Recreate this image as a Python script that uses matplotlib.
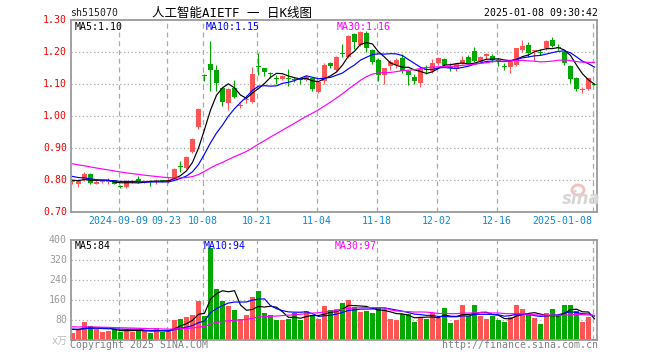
import numpy as np
import matplotlib
matplotlib.use('Agg')
import matplotlib.pyplot as plt
from matplotlib.patches import Ellipse

# ---------------- data ----------------
tick_index = [8, 16, 22, 31, 41, 51, 61, 71, 87]
tick_labels = ['2024-09-09', '09-23', '10-08', '10-21', '11-04', '11-18', '12-02', '12-16', '2025-01-08']

open_ = [0.794, 0.788, 0.800, 0.819, 0.788, 0.793, 0.795, 0.800, 0.780, 0.777,
         0.793, 0.804, 0.795, 0.796, 0.795, 0.800, 0.797, 0.803, 0.843, 0.837,
         0.887, 0.967, 1.127, 1.162, 1.145, 1.086, 1.042, 1.087, 1.032, 1.049,
         1.045, 1.156, 1.149, 1.133, 1.118, 1.117, 1.120, 1.115, 1.114, 1.112,
         1.120, 1.076, 1.108, 1.165, 1.143, 1.196, 1.184, 1.255, 1.222, 1.258,
         1.205, 1.175, 1.128, 1.155, 1.158, 1.180, 1.142, 1.123, 1.104, 1.145,
         1.142, 1.165, 1.177, 1.153, 1.146, 1.165, 1.185, 1.204, 1.170, 1.189,
         1.187, 1.173, 1.156, 1.152, 1.160, 1.206, 1.222, 1.203, 1.200, 1.211,
         1.238, 1.217, 1.201, 1.157, 1.120, 1.080, 1.083, 1.100]
high = [0.801, 0.802, 0.824, 0.821, 0.800, 0.799, 0.805, 0.801, 0.783, 0.800,
        0.800, 0.811, 0.800, 0.797, 0.802, 0.801, 0.810, 0.836, 0.858, 0.875,
        0.930, 1.024, 1.130, 1.235, 1.160, 1.090, 1.087, 1.112, 1.040, 1.065,
        1.153, 1.198, 1.150, 1.138, 1.127, 1.127, 1.146, 1.122, 1.120, 1.128,
        1.123, 1.110, 1.165, 1.168, 1.186, 1.224, 1.253, 1.258, 1.265, 1.265,
        1.210, 1.180, 1.150, 1.175, 1.180, 1.193, 1.145, 1.130, 1.148, 1.160,
        1.177, 1.185, 1.180, 1.165, 1.165, 1.186, 1.190, 1.215, 1.186, 1.196,
        1.195, 1.180, 1.165, 1.177, 1.213, 1.238, 1.232, 1.207, 1.210, 1.237,
        1.246, 1.225, 1.205, 1.160, 1.122, 1.090, 1.120, 1.100]
low = [0.788, 0.779, 0.797, 0.787, 0.786, 0.790, 0.788, 0.786, 0.775, 0.775,
       0.790, 0.790, 0.792, 0.782, 0.786, 0.794, 0.790, 0.800, 0.826, 0.835,
       0.885, 0.958, 1.110, 1.077, 1.077, 1.030, 1.020, 1.055, 1.024, 1.040,
       1.042, 1.128, 1.125, 1.118, 1.100, 1.113, 1.095, 1.105, 1.100, 1.108,
       1.078, 1.073, 1.100, 1.150, 1.140, 1.185, 1.180, 1.210, 1.220, 1.200,
       1.162, 1.110, 1.099, 1.145, 1.150, 1.135, 1.098, 1.100, 1.090, 1.130,
       1.133, 1.160, 1.155, 1.142, 1.140, 1.162, 1.160, 1.170, 1.168, 1.177,
       1.170, 1.155, 1.144, 1.135, 1.155, 1.200, 1.185, 1.175, 1.190, 1.205,
       1.215, 1.205, 1.160, 1.102, 1.078, 1.071, 1.080, 1.098]
close = [0.795, 0.798, 0.818, 0.790, 0.795, 0.797, 0.797, 0.789, 0.779, 0.795,
         0.798, 0.794, 0.798, 0.795, 0.798, 0.796, 0.800, 0.834, 0.841, 0.872,
         0.928, 1.023, 1.124, 1.145, 1.104, 1.045, 1.085, 1.060, 1.034, 1.052,
         1.130, 1.153, 1.139, 1.130, 1.115, 1.124, 1.117, 1.112, 1.112, 1.123,
         1.084, 1.107, 1.158, 1.155, 1.183, 1.193, 1.250, 1.230, 1.263, 1.212,
         1.170, 1.128, 1.149, 1.170, 1.175, 1.140, 1.127, 1.108, 1.146, 1.143,
         1.167, 1.180, 1.160, 1.151, 1.161, 1.175, 1.165, 1.173, 1.183, 1.191,
         1.176, 1.171, 1.154, 1.173, 1.211, 1.219, 1.196, 1.205, 1.198, 1.234,
         1.220, 1.212, 1.166, 1.115, 1.084, 1.082, 1.118, 1.098]
volume = [29, 39, 72, 56, 45, 32, 36, 43, 33, 43,
          33, 40, 36, 28, 48, 33, 36, 80, 85, 93,
          99, 157, 98, 369, 205, 156, 136, 120, 83, 100,
          172, 196, 108, 100, 80, 80, 85, 109, 81, 116,
          99, 85, 136, 120, 125, 149, 161, 133, 112, 116,
          108, 132, 123, 84, 80, 103, 105, 72, 93, 84,
          107, 89, 128, 68, 80, 140, 96, 140, 96, 84,
          96, 80, 72, 92, 140, 124, 103, 88, 64, 108,
          124, 96, 140, 140, 116, 72, 92, 4]
# sessions before the visible window (feed the moving averages)
prior_close = [0.905, 0.900, 0.898, 0.895, 0.890, 0.886, 0.882, 0.878, 0.875, 0.872,
               0.868, 0.865, 0.862, 0.858, 0.855, 0.851, 0.848, 0.845, 0.840, 0.836,
               0.832, 0.828, 0.824, 0.818, 0.812, 0.805, 0.800, 0.800, 0.797]
prior_volume = [62, 58, 66, 55, 60, 52, 64, 57, 61, 54, 59, 63, 56, 60, 53, 58, 62, 55, 57,
                45, 40, 48, 42, 38, 50, 44, 47, 41, 52]

price_ticks = [0.70, 0.80, 0.90, 1.00, 1.10, 1.20, 1.30]
volume_ticks = [80, 160, 240, 320, 400]
price_legend = ['MA5:1.10', 'MA10:1.15', 'MA30:1.16']
volume_legend = ['MA5:84', 'MA10:94', 'MA30:97']

# ---------------- helpers ----------------
RED = '#FF5555'
GREEN = '#00A800'
W, H = 660, 360
def fx(x): return x / W
def fy(y): return 1 - y / H

def moving(prior, series, n):
    full = np.array(list(prior) + list(series), dtype=float)
    p = len(prior)
    return np.array([full[p + i - n + 1:p + i + 1].mean() for i in range(len(series))])

n = len(close)
idx = np.arange(n)
cols = [RED if c >= o else GREEN for o, c in zip(open_, close)]

fig = plt.figure(figsize=(6.6, 3.6), dpi=100)
ax = fig.add_axes([fx(71), fy(212), 526 / W, 192 / H])
axv = fig.add_axes([fx(71), fy(340), 526 / W, 100 / H])

xl = (-0.25, 87.42)
for a in (ax, axv):
    a.set_xlim(*xl)
    a.set_xticks([]); a.set_yticks([])
    for s in a.spines.values():
        s.set_color('#9a9a9a'); s.set_linewidth(1.3)
    for t in tick_index:
        a.axvline(t - 0.3, color='#aaaaaa', lw=0.9, ls=(0, (4, 3)), zorder=0)
ax.set_ylim(0.70, 1.30)
axv.set_ylim(0, 400)
for p in price_ticks[1:-1]:
    ax.axhline(p, color='#aaaaaa', lw=0.9, ls=(0, (1, 2)), zorder=0)
for v in volume_ticks[:-1]:
    axv.axhline(v, color='#aaaaaa', lw=0.9, ls=(0, (1, 2)), zorder=0)

# watermark (behind the data)
fig.patches.append(Ellipse((fx(578), fy(190)), 12 / W, 10 / H, transform=fig.transFigure,
                           fill=False, ec='#f3c0c0', lw=2.0, zorder=0))
fig.text(fx(581), fy(199), 'sina', fontsize=12, color='#d6d6d6', style='italic', weight='bold',
         va='center', ha='center', zorder=0)

# candles
o = np.array(open_); c = np.array(close)
body_lo = np.minimum(o, c)
body_h = np.maximum(np.abs(c - o), 0.0032)
ax.vlines(idx, low, high, colors=cols, lw=0.8, zorder=2)
ax.bar(idx, body_h, bottom=body_lo, width=0.8, color=cols, lw=0, zorder=3)

ma_colors = ['#000000', '#0000FF', '#FF00FF']
for nper, col in zip([5, 10, 30], ma_colors):
    ax.plot(idx, moving(prior_close, close, nper), color=col, lw=0.85, zorder=4)

# volume
axv.bar(idx, volume, width=0.84, color=cols, lw=0, zorder=2)
for nper, col in zip([5, 10, 30], ma_colors):
    axv.plot(idx, moving(prior_volume, volume, nper), color=col, lw=0.85, zorder=4)

ax.patch.set_alpha(0)

MONO = 'DejaVu Sans Mono'
FS = 7.1
# title row
fig.text(fx(70), fy(13), 'sh515070', family=MONO, fontsize=FS, color='#222222', va='center', ha='left')
fig.text(fx(151.5), fy(13), '人工智能AIETF 一 日K线图', family=[MONO, 'Noto Sans CJK SC'],
         fontsize=9, color='#000000', va='center', ha='left')
fig.text(fx(598), fy(13), '2025-01-08 09:30:42', family=MONO, fontsize=FS, color='#000000', va='center', ha='right')

# legends
for txt, x, col in zip(price_legend, [75, 206, 337], ma_colors):
    fig.text(fx(x), fy(26.5), txt, family=MONO, fontsize=FS, color=col, va='center', ha='left')
for txt, x, col in zip(volume_legend, [75, 204, 335], ma_colors):
    fig.text(fx(x), fy(246), txt, family=MONO, fontsize=FS, color=col, va='center', ha='left')

# price axis labels
for p in price_ticks:
    y = 212 - (p - 0.70) / 0.60 * 192
    fig.text(fx(67), fy(y), f'{p:.2f}', family=MONO, fontsize=FS, color='#EE0000', va='center', ha='right')
# volume axis labels
for v in volume_ticks:
    y = 340 - v / 400 * 100
    fig.text(fx(67), fy(y), f'{v}', family=MONO, fontsize=FS, color='#999999', va='center', ha='right')
fig.text(fx(67), fy(341), 'x万', family=[MONO, 'Noto Sans CJK SC'], fontsize=FS, color='#bbbbbb', va='center', ha='right')

# date labels
for k, (t, lab) in enumerate(zip(tick_index, tick_labels)):
    xp = 72.5 + 6 * (t - 0.3)
    ha = 'right' if k == len(tick_index) - 1 else 'center'
    fig.text(fx(xp + (0 if ha == 'center' else -0.5)), fy(221), lab, family=MONO, fontsize=FS,
             color='#0A88D0', va='center', ha=ha)

fig.text(fx(70), fy(345.5), 'Copyright 2025 SINA.COM', family=MONO, fontsize=FS, color='#808080', va='center', ha='left')
fig.text(fx(598), fy(345.5), 'http://finance.sina.com.cn', family=MONO, fontsize=FS, color='#808080', va='center', ha='right')

fig.savefig('out.png', dpi=100)
